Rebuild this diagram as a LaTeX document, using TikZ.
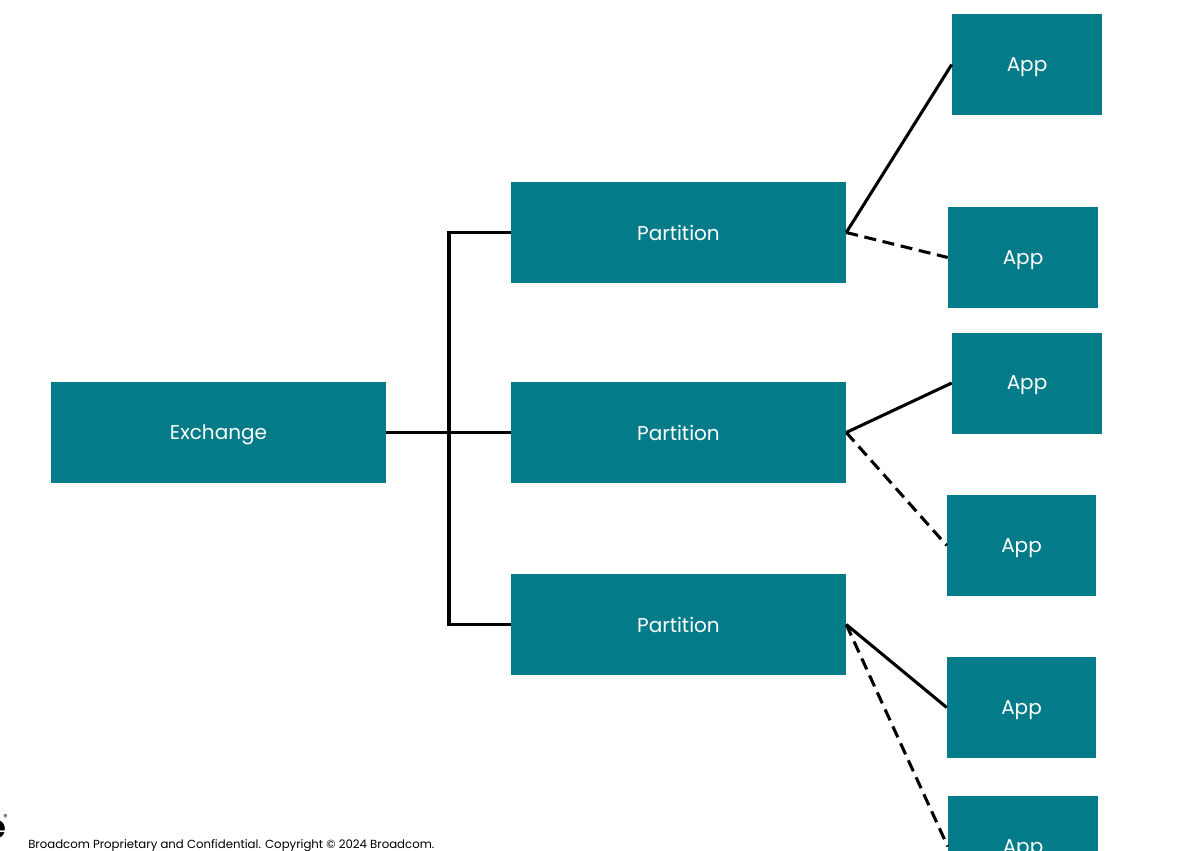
\documentclass[tikz,border=0pt]{standalone}
\usepackage{fontspec}
\setmainfont{Poppins}
\definecolor{teal1}{RGB}{3,123,137}
\begin{document}
\begin{tikzpicture}[x=0.75pt,y=-0.75pt,
  box/.style={fill=teal1,draw=none,text=white,font=\fontsize{15}{17}\selectfont,inner sep=0pt,text depth=0pt},
  link/.style={line width=2.3pt,line join=miter},
  dlink/.style={line width=2.3pt,dash pattern=on 9pt off 5pt}]
\useasboundingbox (0,0) rectangle (1189,850);
\begin{scope}
\clip (0,0) rectangle (1189,850);
\node[box,minimum width=335*0.75pt,minimum height=101*0.75pt] (ex) at (218.5,432.5) {Exchange};
\node[box,minimum width=335*0.75pt,minimum height=101*0.75pt] (p1) at (678.5,232.5) {Partition};
\node[box,minimum width=335*0.75pt,minimum height=101*0.75pt] (p2) at (678.5,432.5) {Partition};
\node[box,minimum width=335*0.75pt,minimum height=101*0.75pt] (p3) at (678.5,624.5) {Partition};
\node[box,minimum width=150*0.75pt,minimum height=101*0.75pt] (a1) at (1027,64.5) {App};
\node[box,minimum width=150*0.75pt,minimum height=101*0.75pt] (a2) at (1023,257.5) {App};
\node[box,minimum width=150*0.75pt,minimum height=101*0.75pt] (a3) at (1027,383) {App};
\node[box,minimum width=149*0.75pt,minimum height=101*0.75pt] (a4) at (1021.5,545.5) {App};
\node[box,minimum width=149*0.75pt,minimum height=101*0.75pt] (a5) at (1021.5,707.5) {App};
\node[box,minimum width=150*0.75pt,minimum height=101*0.75pt] (a6) at (1023,846.5) {App};
\coordinate (bt) at (449,232.5);
\coordinate (bb) at (449,624.5);
\draw[link] (ex.east) -- (p2.west);
\draw[link] (p1.west) -- (bt) -- (bb) -- (p3.west);
\draw[link] (p1.east) -- (a1.west);
\draw[dlink] (p1.east) -- (a2.west);
\draw[link] (p2.east) -- (a3.west);
\draw[dlink] (p2.east) -- (a4.west);
\draw[link] (p3.east) -- (a5.west);
\draw[dlink] (p3.east) -- (a6.west);
\node[anchor=base east,inner sep=0pt,font=\bfseries\fontsize{24}{26}\selectfont] (logo) at (6,838) {e};
\node[anchor=north west,inner sep=0pt,font=\fontsize{6.5}{7}\selectfont] (reg) at (3,814) {®};
\node[anchor=base west,inner sep=0pt,font=\fontsize{8.8}{10}\selectfont] (foot) at (28,848) {Broadcom Proprietary and Confidential. Copyright © 2024 Broadcom.};
\end{scope}
\end{tikzpicture}
\end{document}
